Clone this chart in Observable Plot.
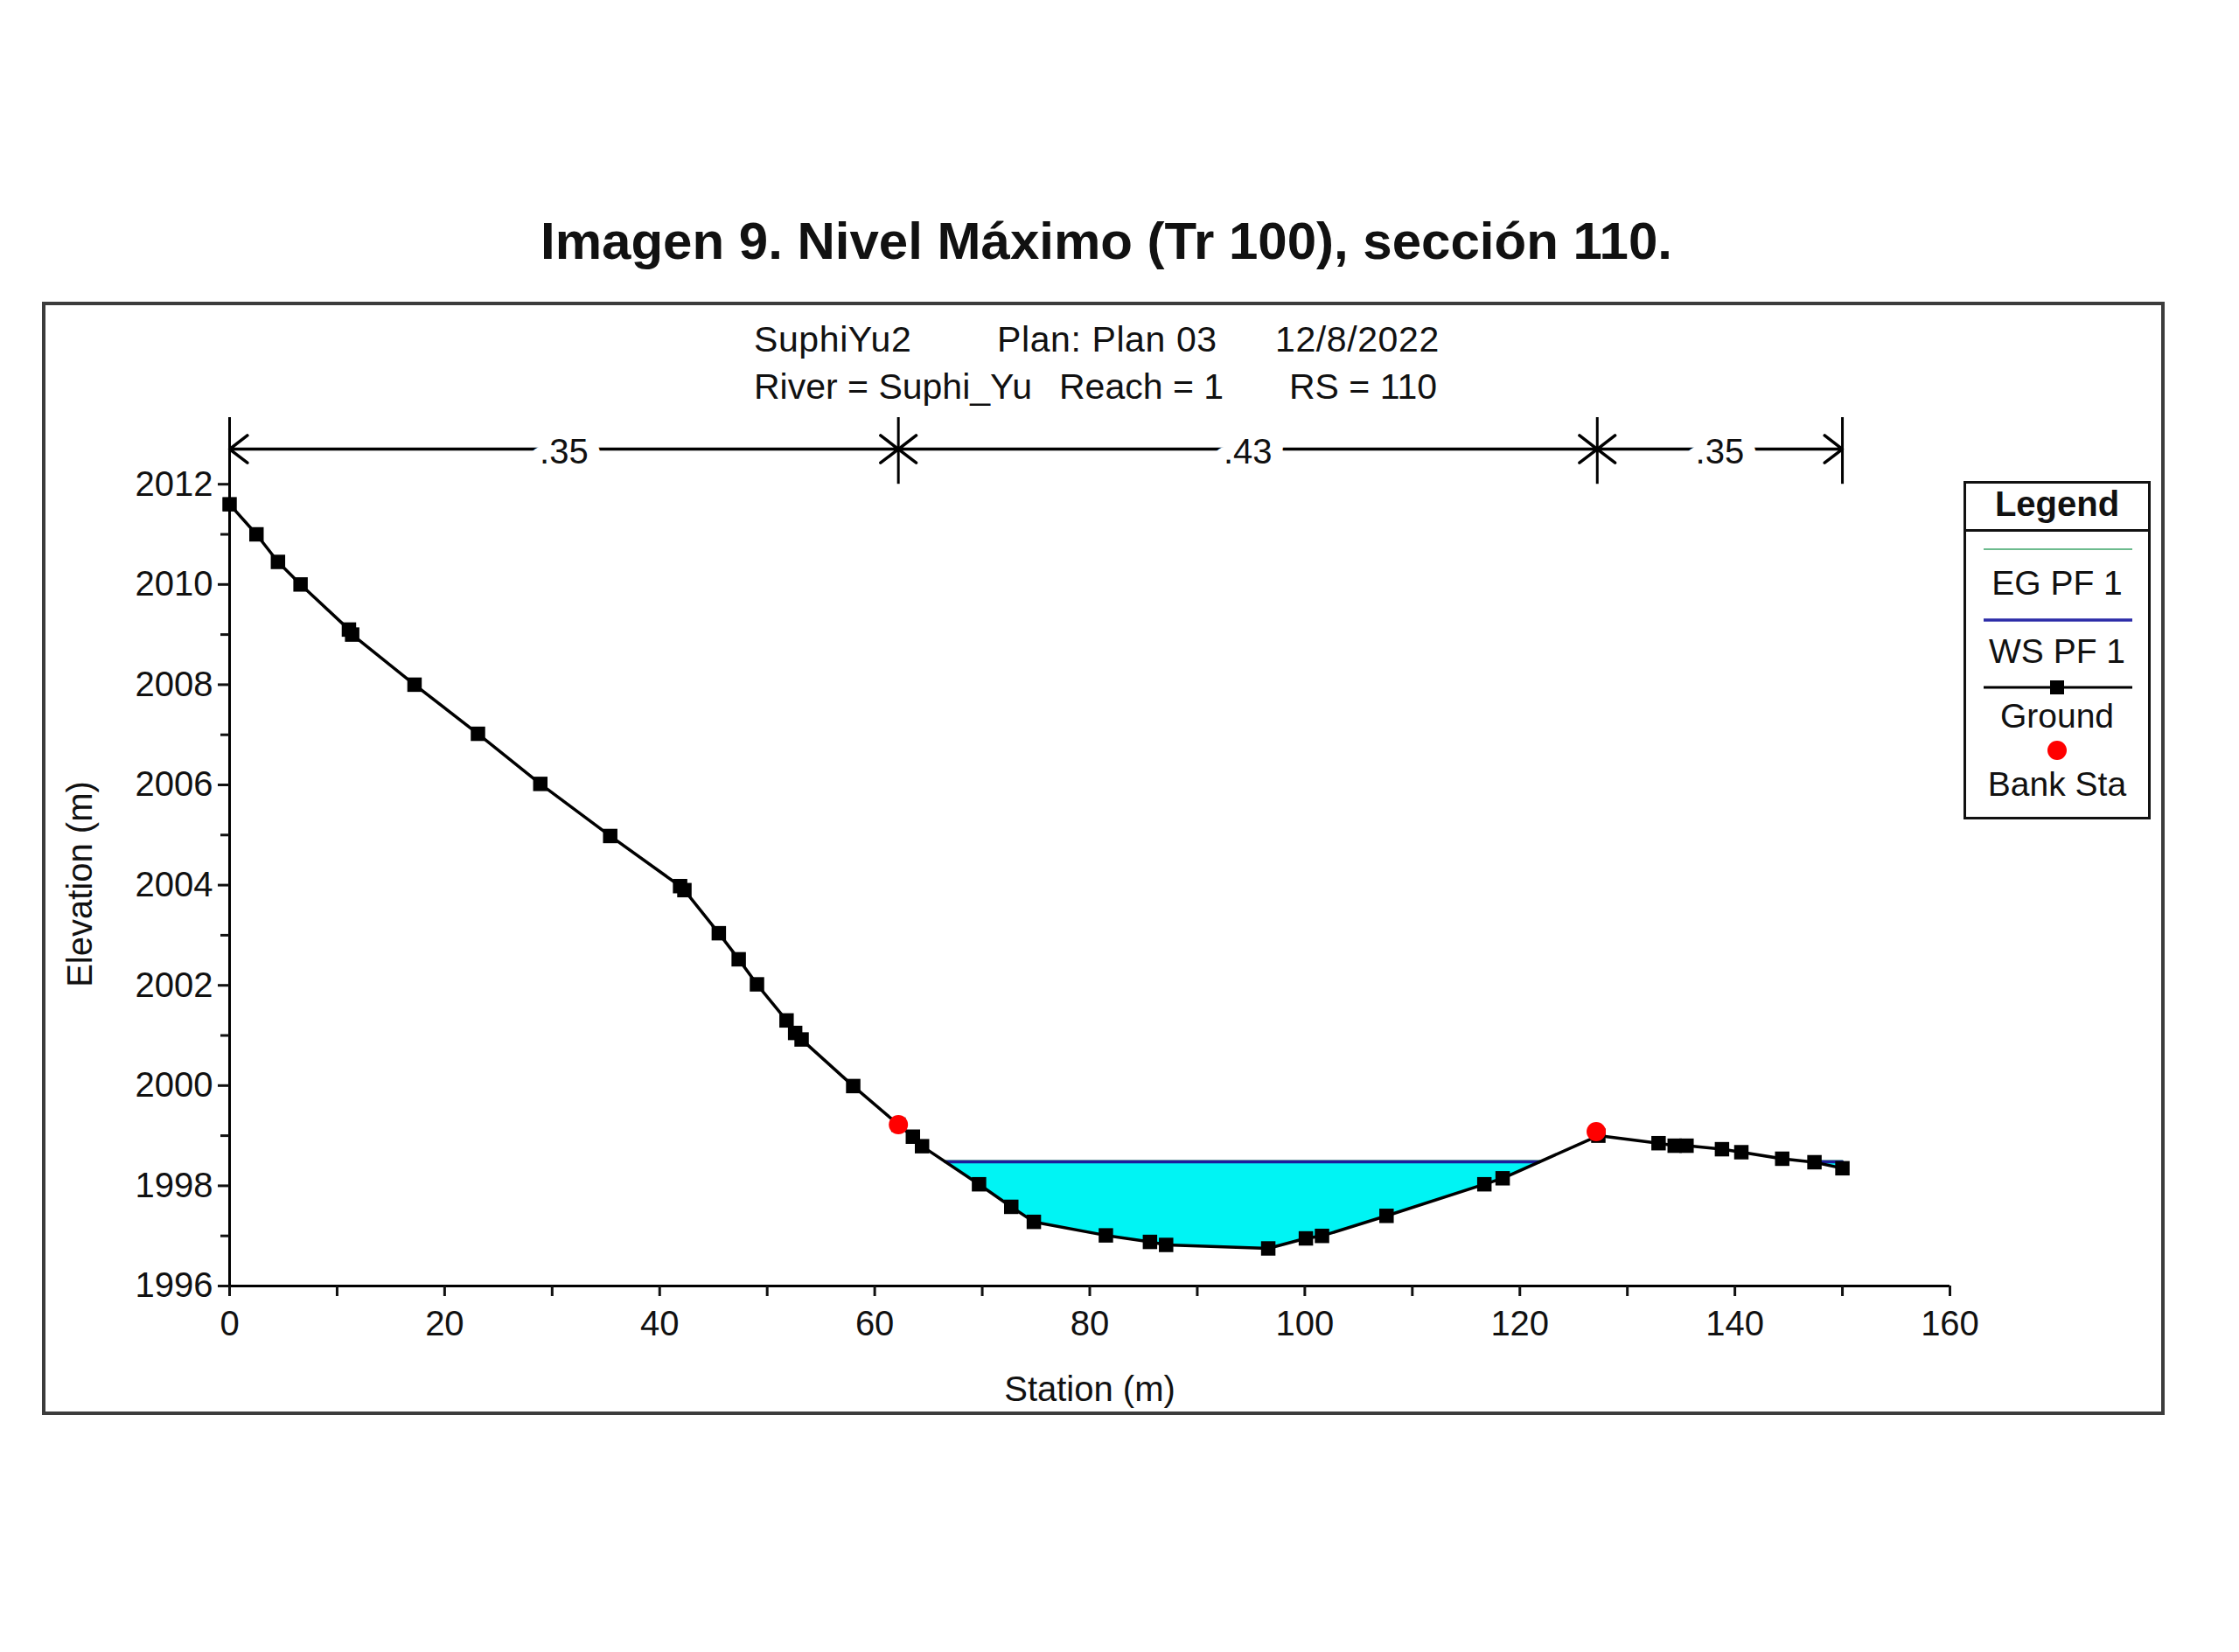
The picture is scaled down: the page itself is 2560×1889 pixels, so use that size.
<!DOCTYPE html>
<html>
<head>
<meta charset="utf-8">
<script src="https://cdn.jsdelivr.net/npm/d3@7"></script>
<script src="https://cdn.jsdelivr.net/npm/@observablehq/plot@0.6"></script>
<style>
html, body { margin: 0; padding: 0; background: #fff; }
#stage { position: relative; width: 2560px; height: 1889px; overflow: hidden; font-family: 'Liberation Sans', Arial, sans-serif; color: #111; background: #fff; }
</style>
</head>
<body>
<div id="stage"></div>
<script>
// ---------------- DATA ----------------
const titleText = "Imagen 9. Nivel Máximo (Tr 100), sección 110.";
const headerLine1 = ["SuphiYu2", "Plan: Plan 03", "12/8/2022"];
const headerLine2 = ["River = Suphi_Yu", "Reach = 1", "RS = 110"];

const stations = [0, 2.5, 4.5, 6.6, 11.1, 11.4, 17.2, 23.1, 28.9, 35.4, 41.9, 42.3, 45.5, 47.35, 49.05,
  51.8, 52.6, 53.2, 58.0, 62.2, 63.55, 64.4, 69.7, 72.7, 74.8, 81.5, 85.6, 87.1, 96.6, 100.1, 101.6,
  107.6, 116.7, 118.4, 127.3, 132.9, 134.4, 135.5, 138.8, 140.6, 144.4, 147.4, 150.0];
const elevations = [2011.6, 2011.0, 2010.45, 2010.0, 2009.1, 2009.0, 2008.0, 2007.02, 2006.02, 2004.98, 2003.98, 2003.9, 2003.04, 2002.52, 2002.02,
  2001.3, 2001.05, 2000.92, 1999.99, 1999.22, 1998.98, 1998.79, 1998.03, 1997.58, 1997.28, 1997.01, 1996.88, 1996.82, 1996.75, 1996.95, 1997.0,
  1997.4, 1998.03, 1998.15, 1999.0, 1998.85, 1998.8, 1998.8, 1998.73, 1998.67, 1998.54, 1998.47, 1998.35];

const bankStations = [62.2, 127.1];
const bankElevations = [1999.22, 1999.08];

const nBreaks = [0, 62.2, 127.2, 150];
const nValues = [".35", ".43", ".35"];

const wsElevation = 1998.48;   // WS PF 1
const egElevation = 1998.50;   // EG PF 1

const xTicks = d3.range(0, 161, 10);
const yMajorTicks = d3.range(1996, 2013, 2);
const yMinorTicks = d3.range(1997, 2012, 2);

const legendItems = ["EG PF 1", "WS PF 1", "Ground", "Bank Sta"];

// ---------------- DERIVED ----------------
const ground = stations.map((x, i) => ({x, y: elevations[i]}));
const banks = bankStations.map((x, i) => ({x, y: bankElevations[i]}));

// wetted regions (ground below the water surface), with edges where the ground crosses the WS level
const water = [];
{
  let region = 0;
  for (let i = 0; i < ground.length; i++) {
    const p = ground[i];
    const wet = p.y < wsElevation;
    if (i > 0) {
      const q = ground[i - 1];
      const qWet = q.y < wsElevation;
      if (wet !== qWet) {
        const t = (wsElevation - q.y) / (p.y - q.y);
        water.push({x: q.x + t * (p.x - q.x), y: wsElevation, region});
        if (!wet) region++;
      }
    }
    if (wet) water.push({x: p.x, y: p.y, region});
  }
}
const regions = d3.groups(water, d => d.region);
const wsLine = regions.flatMap(([r, pts]) => [
  {x: d3.min(pts, d => d.x), y: wsElevation, region: r},
  {x: d3.max(pts, d => d.x), y: wsElevation, region: r}
]);
const egLine = wsLine.map(d => ({...d, y: egElevation}));

const zones = nValues.map((n, i) => ({from: nBreaks[i], to: nBreaks[i + 1], n, mid: (nBreaks[i] + nBreaks[i + 1]) / 2}));
const arrows = zones.flatMap(z => [{x1: z.mid, x2: z.from}, {x1: z.mid, x2: z.to}]);

// ---------------- LAYOUT ----------------
const FONT = "'Liberation Sans', Arial, sans-serif";
const stage = document.getElementById("stage");
const yTop = 2013.33;
const nLineY = 2012.7;
const nBarLow = 2012.0;

function place(text, {x, baseline, size, weight = 400, align = "left", spacing = 0}) {
  const d = document.createElement("div");
  d.textContent = text;
  d.style.cssText = `position:absolute;font-family:${FONT};font-size:${size}px;font-weight:${weight};line-height:${size}px;letter-spacing:${spacing}px;white-space:pre;color:#111;top:${baseline - 0.8465 * size}px;`;
  if (align === "center") {
    d.style.left = (x - 800) + "px";
    d.style.width = "1600px";
    d.style.textAlign = "center";
  } else {
    d.style.left = x + "px";
  }
  stage.appendChild(d);
  return d;
}

// title (above the chart)
place(titleText, {x: 1265, baseline: 297, size: 60, weight: 700, align: "center"});

// outer frame
const frame = document.createElement("div");
frame.style.cssText = "position:absolute;left:48px;top:345px;width:2427px;height:1273px;border:4px solid #3c3c3c;box-sizing:border-box;";
stage.appendChild(frame);

// header lines
const h1x = [862, 1140, 1458];
const h2x = [862, 1211, 1474];
headerLine1.forEach((t, i) => place(t, {x: h1x[i], baseline: 403, size: 41, spacing: 0.6}));
headerLine2.forEach((t, i) => place(t, {x: h2x[i], baseline: 457, size: 41, spacing: 0}));

// ---------------- PLOT ----------------
const plot = Plot.plot({
  width: 2560,
  height: 1300,
  marginLeft: 262,
  marginRight: 331,
  marginTop: 147,
  marginBottom: 160,
  x: {domain: [0, 160]},
  y: {domain: [1996, yTop]},
  style: {background: "transparent", fontFamily: FONT, fontSize: "40px", color: "#111", overflow: "visible"},
  marks: [
    // water
    Plot.areaY(water, {x: "x", y1: "y", y2: () => wsElevation, z: "region", fill: "#00f4f4"}),
    Plot.line(egLine, {x: "x", y: "y", z: "region", stroke: "#6dbb8e", strokeWidth: 2}),
    Plot.line(wsLine, {x: "x", y: "y", z: "region", stroke: "#1c1c9c", strokeWidth: 3.5}),
    // ground
    Plot.line(ground, {x: "x", y: "y", stroke: "#000", strokeWidth: 3.5}),
    Plot.dot(ground, {x: "x", y: "y", symbol: "square", r: 9.3, fill: "#000"}),
    Plot.dot(banks, {x: "x", y: "y", r: 11, fill: "#ff0000"}),
    // axes
    Plot.ruleY([1996], {x1: 0, x2: 160, stroke: "#000", strokeWidth: 3}),
    Plot.ruleX([0], {y1: () => 1996, y2: () => yTop, stroke: "#000", strokeWidth: 3}),
    Plot.axisX({ticks: xTicks, tickSize: 12, tickPadding: 16, tickFormat: d => (d % 20 === 0 ? String(d) : ""), fontSize: 40, strokeWidth: 3, label: null}),
    Plot.axisY({ticks: yMajorTicks, tickSize: 13, tickPadding: 6, tickFormat: d => String(d), fontSize: 40, strokeWidth: 3, label: null}),
    Plot.axisY({ticks: yMinorTicks, tickSize: 10, tickFormat: () => "", strokeWidth: 3, label: null}),
    Plot.text(["Station (m)"], {text: d => d, frameAnchor: "bottom", dy: 119, lineAnchor: "middle", fontSize: 40, fill: "#111"}),
    Plot.text(["Elevation (m)"], {text: d => d, frameAnchor: "left", textAnchor: "middle", dx: -170, dy: 37, rotate: -90, lineAnchor: "middle", fontSize: 40, fill: "#111"}),
    // Manning's n zones
    Plot.ruleX(nBreaks, {x: d => d, y1: () => nBarLow, y2: () => yTop, stroke: "#000", strokeWidth: 3}),
    Plot.arrow(arrows, {x1: "x1", x2: "x2", y1: () => nLineY, y2: () => nLineY, stroke: "#000", strokeWidth: 3.5, headLength: 11, headAngle: 75}),
    Plot.text(zones, {x: "mid", y: () => nLineY, text: "n", fontSize: 40, fill: "#111", stroke: "white", strokeWidth: 30, dy: 4})
  ]
});
plot.style.position = "absolute";
plot.style.left = "0px";
plot.style.top = "330px";
plot.style.maxWidth = "none";
stage.appendChild(plot);

// ---------------- LEGEND ----------------
const lg = document.createElement("div");
lg.style.cssText = "position:absolute;left:2245px;top:550px;width:214px;height:387px;border:3px solid #111;box-sizing:border-box;background:#fff;";
stage.appendChild(lg);
const sep = document.createElement("div");
sep.style.cssText = "position:absolute;left:2245px;top:605px;width:214px;height:3px;background:#111;";
stage.appendChild(sep);

const ns = "http://www.w3.org/2000/svg";
const sw = document.createElementNS(ns, "svg");
sw.setAttribute("width", 214); sw.setAttribute("height", 387);
sw.style.cssText = "position:absolute;left:2245px;top:550px;overflow:visible;";
function el(tag, attrs) { const e = document.createElementNS(ns, tag); for (const k in attrs) e.setAttribute(k, attrs[k]); sw.appendChild(e); return e; }
el("line", {x1: 23, x2: 193, y1: 78, y2: 78, stroke: "#6dbb8e", "stroke-width": 2});
el("line", {x1: 23, x2: 193, y1: 159, y2: 159, stroke: "#2c2ca8", "stroke-width": 3.5});
el("line", {x1: 23, x2: 193, y1: 236, y2: 236, stroke: "#000", "stroke-width": 3});
el("rect", {x: 99, y: 228, width: 16, height: 16, fill: "#000"});
el("circle", {cx: 107, cy: 308, r: 11, fill: "#ff0000"});
stage.appendChild(sw);

place("Legend", {x: 2352, baseline: 590, size: 40, weight: 700, align: "center"});
const legendBaselines = [680, 758, 832, 910];
legendItems.forEach((t, i) => place(t, {x: 2352, baseline: legendBaselines[i], size: 39, align: "center"}));
</script>
</body>
</html>
